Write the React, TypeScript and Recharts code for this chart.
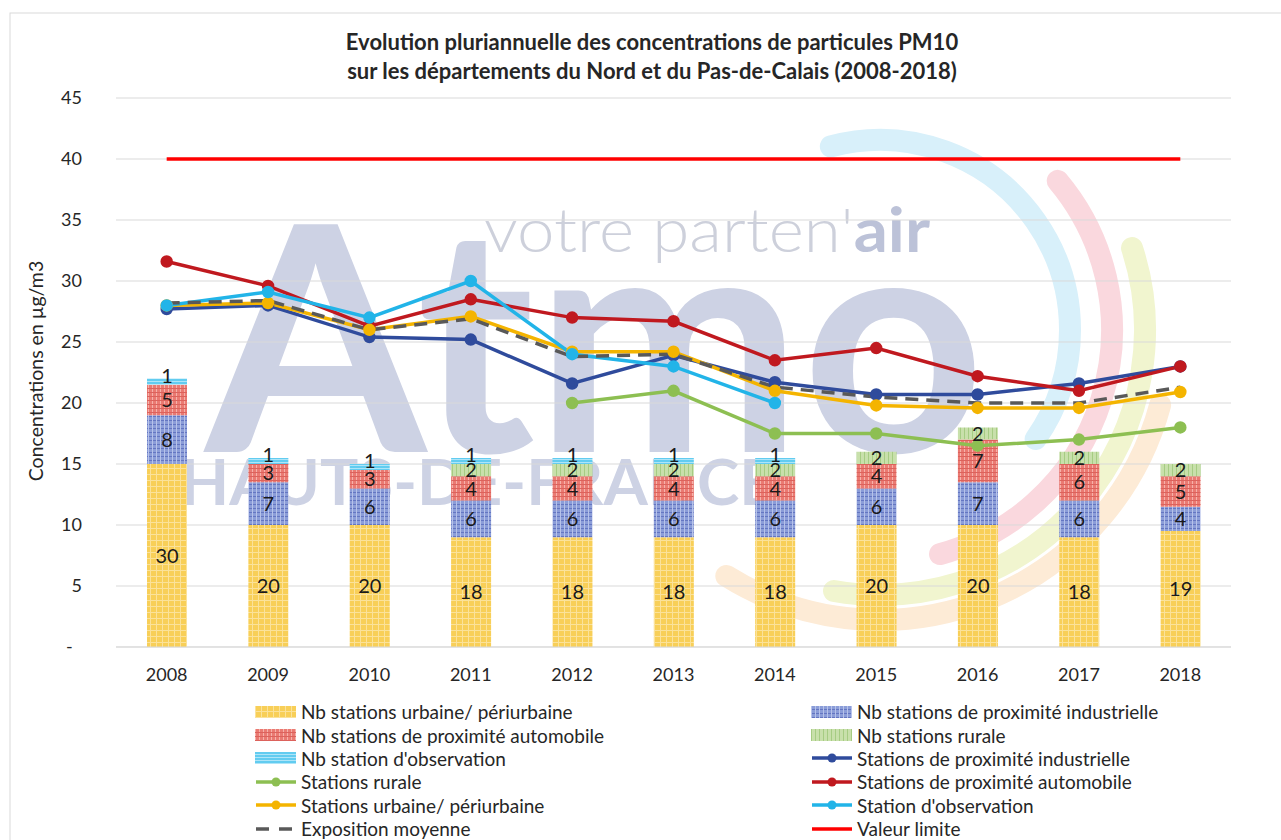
import { Bar, CartesianGrid, ComposedChart, LabelList, Line, XAxis, YAxis } from "recharts";

const years = ["2008", "2009", "2010", "2011", "2012", "2013", "2014", "2015", "2016", "2017", "2018"];

// nombre de stations (barres empilées, axe secondaire caché)
const nbUrbain = [30, 20, 20, 18, 18, 18, 18, 20, 20, 18, 19];
const nbIndustriel = [8, 7, 6, 6, 6, 6, 6, 6, 7, 6, 4];
const nbAutomobile = [5, 3, 3, 4, 4, 4, 4, 4, 7, 6, 5];
const nbRural = [null, null, null, 2, 2, 2, 2, 2, 2, 2, 2];
const nbObservation = [1, 1, 1, 1, 1, 1, 1, null, null, null, null];

// concentrations en µg/m3
const industriel = [27.7, 28.0, 25.4, 25.2, 21.6, 23.9, 21.7, 20.7, 20.7, 21.6, 23.0];
const rural = [null, null, null, null, 20.0, 21.0, 17.5, 17.5, 16.5, 17.0, 18.0];
const automobile = [31.6, 29.6, 26.3, 28.5, 27.0, 26.7, 23.5, 24.5, 22.2, 21.0, 23.0];
const urbain = [28.0, 28.2, 26.0, 27.1, 24.2, 24.2, 21.0, 19.8, 19.6, 19.6, 20.9];
const observation = [28.0, 29.1, 27.0, 30.0, 24.0, 23.0, 20.0, null, null, null, null];
const exposition = [28.2, 28.4, 26.0, 26.9, 23.8, 24.0, 21.3, 20.5, 20.0, 20.0, 21.3];
const limite = [40, 40, 40, 40, 40, 40, 40, 40, 40, 40, 40];

const yTicks = [0, 5, 10, 15, 20, 25, 30, 35, 40, 45];

const data = years.map((year, i) => ({
	year,
	nbUrbain: nbUrbain[i],
	nbIndustriel: nbIndustriel[i],
	nbAutomobile: nbAutomobile[i],
	nbRural: nbRural[i],
	nbObservation: nbObservation[i],
	industriel: industriel[i],
	rural: rural[i],
	automobile: automobile[i],
	urbain: urbain[i],
	observation: observation[i],
	exposition: exposition[i],
	limite: limite[i],
}));

const FONT = "Lato, 'Open Sans', sans-serif";
const TEXT = "#262626";

const C = {
	industriel: "#2f4b9c",
	rural: "#8dbf52",
	automobile: "#c0191f",
	urbain: "#f4b400",
	observation: "#22b4e8",
	exposition: "#595959",
	limite: "#ff0000",
};

const legendItems = [
	{ label: "Nb stations urbaine/ périurbaine", bar: "pUrb" },
	{ label: "Nb stations de proximité industrielle", bar: "pInd" },
	{ label: "Nb stations de proximité automobile", bar: "pAuto" },
	{ label: "Nb stations rurale", bar: "pRur" },
	{ label: "Nb station d'observation", bar: "pObs" },
	{ label: "Stations de proximité industrielle", line: C.industriel, dot: true },
	{ label: "Stations rurale", line: C.rural, dot: true },
	{ label: "Stations de proximité automobile", line: C.automobile, dot: true },
	{ label: "Stations urbaine/ périurbaine", line: C.urbain, dot: true },
	{ label: "Station d'observation", line: C.observation, dot: true },
	{ label: "Exposition moyenne", line: C.exposition, dashed: true },
	{ label: "Valeur limite", line: C.limite },
];

function arc(cx: number, cy: number, r: number, a0: number, a1: number) {
	const rad = (a: number) => (a * Math.PI) / 180;
	const x0 = cx + r * Math.cos(rad(a0));
	const y0 = cy + r * Math.sin(rad(a0));
	const x1 = cx + r * Math.cos(rad(a1));
	const y1 = cy + r * Math.sin(rad(a1));
	const large = a1 - a0 > 180 ? 1 : 0;
	return `M ${x0} ${y0} A ${r} ${r} 0 ${large} 1 ${x1} ${y1}`;
}

function Background() {
	return (
		<svg width={1281} height={840} style={{ position: "absolute", left: 0, top: 0 }}>
			<defs>
				<pattern id="pUrb" width="6" height="6" patternUnits="userSpaceOnUse">
					<rect width="6" height="6" fill="#f8cf58" />
					<rect width="6" height="1" fill="#fbe29a" />
					<rect width="1" height="6" fill="#fbe29a" />
				</pattern>
				<pattern id="pInd" width="4" height="4" patternUnits="userSpaceOnUse">
					<rect width="4" height="4" fill="#8b9dd8" />
					<rect width="4" height="1" fill="#6476c2" />
					<rect width="1" height="4" fill="#b6c2ea" />
				</pattern>
				<pattern id="pAuto" width="4" height="4" patternUnits="userSpaceOnUse">
					<rect width="4" height="4" fill="#ea7a72" />
					<rect width="1" height="4" fill="#f6b1aa" />
					<rect width="4" height="1" fill="#dc625c" />
				</pattern>
				<pattern id="pRur" width="4" height="4" patternUnits="userSpaceOnUse">
					<rect width="4" height="4" fill="#c8e0ab" />
					<rect width="1" height="4" fill="#a6cc83" />
				</pattern>
				<pattern id="pObs" width="4" height="3" patternUnits="userSpaceOnUse">
					<rect width="4" height="3" fill="#62ccf0" />
					<rect width="4" height="1" fill="#aee5f8" />
				</pattern>
			</defs>
			<rect x={10} y={13} width={1290} height={850} fill="#fff" stroke="#d9d9d9" />
			{/* filigrane Atmo */}
			<g fill="none" strokeLinecap="round" strokeWidth={22}>
				<path d={arc(880, 330, 190, -105, 35)} stroke="#d8f0fa" />
				<path d={arc(880, 330, 232, -40, 75)} stroke="#fad8de" />
				<path d={arc(880, 330, 265, -18, 100)} stroke="#f1f5cf" />
				<path d={arc(880, 330, 290, 15, 122)} stroke="#fdebd6" />
			</g>
			<text x={205} y={452} fontFamily={FONT} fontWeight={700} fontSize={315} fill="#cdd2e4" textLength={780} lengthAdjust="spacingAndGlyphs">
				Atmo
			</text>
			<text x={484} y={252} fontFamily={FONT} fontWeight={300} fontSize={62} fill="#cdd0db" textLength={446} lengthAdjust="spacingAndGlyphs">
				votre parten'<tspan fontWeight={700} fill="#bcc2d8">air</tspan>
			</text>
			<text x={180} y={505} fontFamily={FONT} fontWeight={700} fontSize={64} fill="#cdd2e4" textLength={596} lengthAdjust="spacingAndGlyphs">
				HAUTS-DE-FRANCE
			</text>
		</svg>
	);
}

function LegendSwatch({ item }: { item: any }) {
	if (item.bar) {
		return (
			<svg width={42} height={14} style={{ marginRight: 4, flexShrink: 0 }}>
				<rect x={0} y={1} width={41} height={12} fill={`url(#${item.bar})`} />
			</svg>
		);
	}
	return (
		<svg width={42} height={14} style={{ marginRight: 4, flexShrink: 0 }}>
			<line
				x1={1}
				x2={41}
				y1={7}
				y2={7}
				stroke={item.line}
				strokeWidth={3.5}
				strokeDasharray={item.dashed ? "13 10" : undefined}
			/>
			{item.dot && <circle cx={21} cy={7} r={4.5} fill={item.line} />}
		</svg>
	);
}

const labelProps = { fontSize: 20, fill: "#1a1a1a", fontFamily: FONT };

export default function App() {
	return (
		<div style={{ position: "absolute", left: 0, top: 0, width: 1281, height: 840, overflow: "hidden", fontFamily: FONT }}>
			<Background />
			<div
				style={{
					position: "absolute",
					left: 0,
					width: 1304,
					top: 27,
					textAlign: "center",
					fontWeight: 700,
					fontSize: 22,
					lineHeight: "29px",
					color: TEXT,
				}}
			>
				Evolution pluriannuelle des concentrations de particules PM10
				<br />
				sur les départements du Nord et du Pas-de-Calais (2008-2018)
			</div>
			<div
				style={{
					position: "absolute",
					left: 35,
					top: 371,
					transform: "translate(-50%, -50%) rotate(-90deg)",
					whiteSpace: "nowrap",
					fontSize: 19.5,
					color: TEXT,
				}}
			>
				Concentrations en µg/m3
			</div>
			<div style={{ position: "absolute", left: 0, top: 0 }}>
				<ComposedChart width={1281} height={700} data={data} margin={{ top: 98, right: 50, left: 0, bottom: 13 }}>
					<CartesianGrid yAxisId="c" vertical={false} stroke="#d9d9d9" />
					<XAxis
						dataKey="year"
						height={40}
						axisLine={{ stroke: "#d9d9d9" }}
						tickLine={false}
						tickSize={0}
						tickMargin={21}
						tick={{ fontSize: 18, fill: TEXT, fontFamily: FONT }}
					/>
					<YAxis
						yAxisId="c"
						width={116}
						domain={[0, 45]}
						ticks={yTicks}
						interval={0}
						axisLine={false}
						tickLine={false}
						tickSize={0}
						tickMargin={34}
						tickFormatter={(v: number) => (v === 0 ? "-\u00a0\u00a0" : String(v))}
						tick={{ fontSize: 18, fill: TEXT, fontFamily: FONT }}
					/>
					<YAxis yAxisId="nb" hide domain={[0, 90]} />
					<Bar yAxisId="nb" dataKey="nbUrbain" stackId="nb" barSize={40} fill="url(#pUrb)" isAnimationActive={false}>
						<LabelList dataKey="nbUrbain" position="center" {...labelProps} />
					</Bar>
					<Bar yAxisId="nb" dataKey="nbIndustriel" stackId="nb" barSize={40} fill="url(#pInd)" isAnimationActive={false}>
						<LabelList dataKey="nbIndustriel" position="center" {...labelProps} />
					</Bar>
					<Bar yAxisId="nb" dataKey="nbAutomobile" stackId="nb" barSize={40} fill="url(#pAuto)" isAnimationActive={false}>
						<LabelList dataKey="nbAutomobile" position="center" {...labelProps} />
					</Bar>
					<Bar yAxisId="nb" dataKey="nbRural" stackId="nb" barSize={40} fill="url(#pRur)" isAnimationActive={false}>
						<LabelList dataKey="nbRural" position="center" {...labelProps} />
					</Bar>
					<Bar yAxisId="nb" dataKey="nbObservation" stackId="nb" barSize={40} fill="url(#pObs)" isAnimationActive={false}>
						<LabelList dataKey="nbObservation" position="top" offset={-4} {...labelProps} />
					</Bar>
					<Line yAxisId="c" dataKey="industriel" stroke={C.industriel} strokeWidth={3.5} dot={{ r: 4.5, fill: C.industriel, stroke: C.industriel }} activeDot={false} isAnimationActive={false} />
					<Line yAxisId="c" dataKey="rural" stroke={C.rural} strokeWidth={3.5} dot={{ r: 4.5, fill: C.rural, stroke: C.rural }} activeDot={false} isAnimationActive={false} />
					<Line yAxisId="c" dataKey="automobile" stroke={C.automobile} strokeWidth={3.5} dot={{ r: 4.5, fill: C.automobile, stroke: C.automobile }} activeDot={false} isAnimationActive={false} />
					<Line yAxisId="c" dataKey="urbain" stroke={C.urbain} strokeWidth={3.5} dot={{ r: 4.5, fill: C.urbain, stroke: C.urbain }} activeDot={false} isAnimationActive={false} />
					<Line yAxisId="c" dataKey="observation" stroke={C.observation} strokeWidth={3.5} dot={{ r: 4.5, fill: C.observation, stroke: C.observation }} activeDot={false} isAnimationActive={false} />
					<Line yAxisId="c" dataKey="exposition" stroke={C.exposition} strokeWidth={3.5} strokeDasharray="13 8" dot={false} activeDot={false} isAnimationActive={false} />
					<Line yAxisId="c" dataKey="limite" stroke={C.limite} strokeWidth={3.5} dot={false} activeDot={false} isAnimationActive={false} />
				</ComposedChart>
			</div>
			<div
				style={{
					position: "absolute",
					left: 255,
					top: 700,
					display: "grid",
					gridTemplateColumns: "556px auto",
					gridAutoRows: "23.4px",
					fontSize: 19,
					color: TEXT,
				}}
			>
				{legendItems.map((item) => (
					<div key={item.label} style={{ display: "flex", alignItems: "center", whiteSpace: "nowrap" }}>
						<LegendSwatch item={item} />
						<span>{item.label}</span>
					</div>
				))}
			</div>
		</div>
	);
}
